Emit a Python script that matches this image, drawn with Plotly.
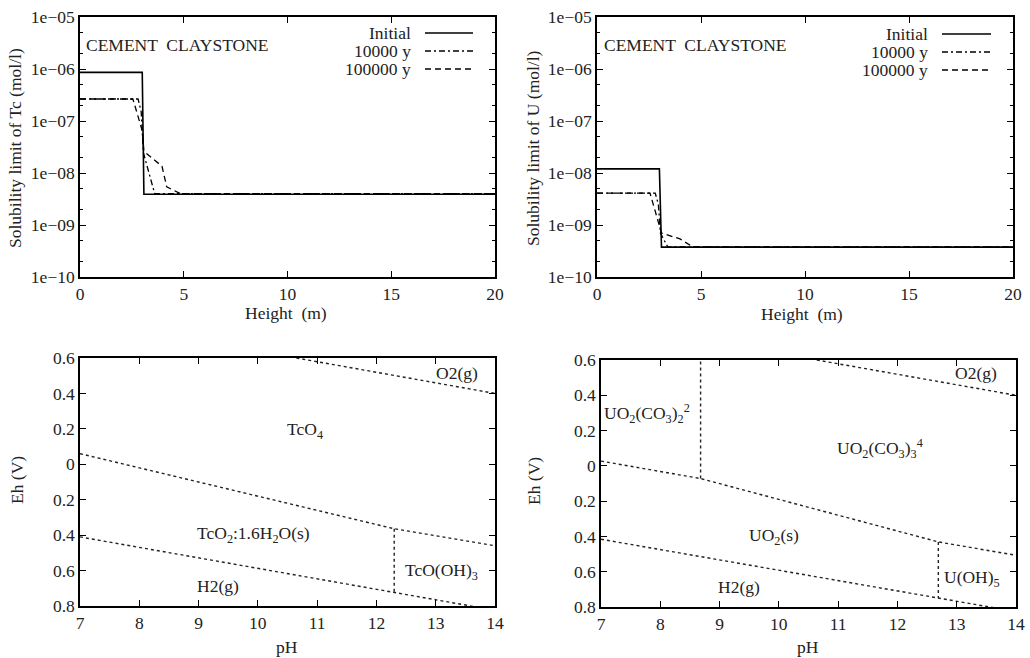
import plotly.graph_objects as go

W, H = 1030, 658
FONT = "Liberation Serif"
FS = 17.5

# ---------------- data: top plots (height vs solubility) ----------------
tc_init_x = [0, 3.0, 3.08, 20]
tc_init_y = [8.6e-7, 8.6e-7, 3.9e-9, 3.9e-9]
tc_1e4_x = [0, 2.8, 2.95, 3.05, 3.6, 20]
tc_1e4_y = [2.65e-7, 2.65e-7, 1.5e-7, 2.5e-8, 4.0e-9, 4.0e-9]
tc_1e5_x = [0, 2.55, 3.0, 3.08, 3.95, 4.18, 4.85, 20]
tc_1e5_y = [2.65e-7, 2.65e-7, 6.5e-8, 2.6e-8, 1.35e-8, 5.4e-9, 4.0e-9, 4.0e-9]

u_init_x = [0, 3.0, 3.1, 20]
u_init_y = [1.2e-8, 1.2e-8, 3.75e-10, 3.75e-10]
u_1e4_x = [0, 2.8, 2.95, 3.05, 3.4, 20]
u_1e4_y = [4.1e-9, 4.1e-9, 2.5e-9, 7.0e-10, 3.8e-10, 3.8e-10]
u_1e5_x = [0, 2.55, 3.1, 3.99, 4.6, 20]
u_1e5_y = [4.1e-9, 4.1e-9, 7.0e-10, 5.4e-10, 3.8e-10, 3.8e-10]

series_names = ["Initial", "10000 y", "100000 y"]
log_tickvals = [1e-10, 1e-9, 1e-8, 1e-7, 1e-6, 1e-5]
log_ticktext = ["1e\u221210", "1e\u221209", "1e\u221208", "1e\u221207", "1e\u221206", "1e\u221205"]
height_ticks = [0, 5, 10, 15, 20]

# ---------------- data: bottom plots (Eh-pH diagrams) ----------------
tc_o2_x = [10.65, 14]
tc_o2_y = [0.6, 0.40]
tc_upper_x = [7, 12.3, 14]
tc_upper_y = [0.06, -0.364, -0.46]
tc_h2_x = [7, 12.3, 14]
tc_h2_y = [-0.41, -0.724, -0.824]
tc_vert_x = [12.3, 12.3]
tc_vert_y = [-0.364, -0.724]

u_o2_x = [10.64, 14]
u_o2_y = [0.6, 0.40]
u_upper_x = [7, 8.68, 12.69, 14]
u_upper_y = [0.027, -0.072, -0.431, -0.507]
u_h2_x = [7, 12.69, 14]
u_h2_y = [-0.416, -0.749, -0.826]
u_vert1_x = [8.68, 8.68]
u_vert1_y = [-0.072, 0.6]
u_vert2_x = [12.69, 12.69]
u_vert2_y = [-0.431, -0.749]

ph_ticks = [7, 8, 9, 10, 11, 12, 13, 14]
eh_tickvals = [0.6, 0.4, 0.2, 0, -0.2, -0.4, -0.6, -0.8]
eh_ticktext = ["0.6", "0.4", "0.2", "0", "0.2", "0.4", "0.6", "0.8"]

tc_labels = [
    (13.36, 0.515, "O2(g)"),
    (10.79, 0.193, "TcO<sub>4</sub>"),
    (9.92, -0.394, "TcO<sub>2</sub>:1.6H<sub>2</sub>O(s)"),
    (9.33, -0.688, "H2(g)"),
    (13.1, -0.603, "TcO(OH)<sub>3</sub>"),
]
u_labels = [
    (13.33, 0.524, "O2(g)"),
    (7.77, 0.297, "UO<sub>2</sub>(CO<sub>3</sub>)<sub>2</sub><sup>2</sup>"),
    (11.70, 0.099, "UO<sub>2</sub>(CO<sub>3</sub>)<sub>3</sub><sup>4</sup>"),
    (9.91, -0.399, "UO<sub>2</sub>(s)"),
    (9.33, -0.686, "H2(g)"),
    (13.25, -0.639, "U(OH)<sub>5</sub>"),
]

# axis titles: (text, x_px, y_px, angle)
axis_titles = [
    ("Solubility limit of Tc (mol/l)", 15, 148, -90),
    ("Height  (m)", 286, 313, 0),
    ("Solubility limit of U (mol/l)", 533, 148, -90),
    ("Height  (m)", 802, 314, 0),
    ("Eh (V)", 17, 480, -90),
    ("pH", 287, 647, 0),
    ("Eh (V)", 534, 481, -90),
    ("pH", 808, 647, 0),
]

# ---------------- figure ----------------
def px_x(p):
    return p / W

def px_y(p):
    return 1 - p / H

fig = go.Figure()

styles = [
    dict(color="black", width=1.6),
    dict(color="black", width=1.3, dash="6px,3px,2px,3px"),
    dict(color="black", width=1.3, dash="6px,4px"),
]

top_sets = [
    ("x", "y", [(tc_init_x, tc_init_y), (tc_1e4_x, tc_1e4_y), (tc_1e5_x, tc_1e5_y)]),
    ("x2", "y2", [(u_init_x, u_init_y), (u_1e4_x, u_1e4_y), (u_1e5_x, u_1e5_y)]),
]
for xa, ya, sets in top_sets:
    for i in [2, 1, 0]:
        xs, ys = sets[i]
        fig.add_trace(go.Scatter(x=xs, y=ys, mode="lines", line=styles[i],
                                 xaxis=xa, yaxis=ya, showlegend=False,
                                 name=series_names[i]))

dot_line = dict(color="#222", width=1.4, dash="dot")
for xs, ys in [(tc_o2_x, tc_o2_y), (tc_upper_x, tc_upper_y), (tc_h2_x, tc_h2_y), (tc_vert_x, tc_vert_y)]:
    fig.add_trace(go.Scatter(x=xs, y=ys, mode="lines", line=dot_line,
                             xaxis="x3", yaxis="y3", showlegend=False))
for xs, ys in [(u_o2_x, u_o2_y), (u_upper_x, u_upper_y), (u_h2_x, u_h2_y),
               (u_vert1_x, u_vert1_y), (u_vert2_x, u_vert2_y)]:
    fig.add_trace(go.Scatter(x=xs, y=ys, mode="lines", line=dot_line,
                             xaxis="x4", yaxis="y4", showlegend=False))

tickfont = dict(family=FONT, size=FS, color="#222")

common = dict(showline=True, linecolor="black", linewidth=1.5, mirror="allticks",
              ticks="inside", ticklen=6, tickwidth=1.2, tickcolor="black",
              showgrid=False, zeroline=False, tickfont=tickfont, automargin=False)

dom = {
    "tl": ([px_x(80), px_x(495)], [px_y(277), px_y(17)]),
    "tr": ([px_x(597), px_x(1013)], [px_y(277), px_y(17)]),
    "bl": ([px_x(80), px_x(495)], [px_y(606), px_y(358)]),
    "br": ([px_x(601), px_x(1016)], [px_y(607), px_y(360)]),
}

log_axis = dict(type="log", range=[-10, -5], tickvals=log_tickvals, ticktext=log_ticktext,
                minor=dict(ticks="inside", ticklen=3, tickwidth=1, tickcolor="black",
                           tickvals=[k * 10 ** e for e in range(-10, -5) for k in (2, 5)]),
                **common)
h_axis = dict(range=[0, 20], tickvals=height_ticks, **common)
ph_axis = dict(range=[7, 14], tickvals=ph_ticks, **common)
eh_axis = dict(range=[-0.8, 0.6], tickvals=eh_tickvals, ticktext=eh_ticktext, **common)

fig.update_layout(
    width=W, height=H,
    margin=dict(l=0, r=0, t=0, b=0),
    paper_bgcolor="white", plot_bgcolor="white",
    font=dict(family=FONT, size=FS, color="#222"),
    xaxis=dict(domain=dom["tl"][0], anchor="y", **h_axis),
    yaxis=dict(domain=dom["tl"][1], anchor="x", **log_axis),
    xaxis2=dict(domain=dom["tr"][0], anchor="y2", **h_axis),
    yaxis2=dict(domain=dom["tr"][1], anchor="x2", **log_axis),
    xaxis3=dict(domain=dom["bl"][0], anchor="y3", **ph_axis),
    yaxis3=dict(domain=dom["bl"][1], anchor="x3", **eh_axis),
    xaxis4=dict(domain=dom["br"][0], anchor="y4", **ph_axis),
    yaxis4=dict(domain=dom["br"][1], anchor="x4", **eh_axis),
)

annotations = []
shapes = []
lab_font = dict(family=FONT, size=FS, color="#222")
for (xv, yv, t) in tc_labels:
    annotations.append(dict(x=xv, y=yv, xref="x3", yref="y3", text=t, showarrow=False,
                            xanchor="center", yanchor="middle", font=lab_font))
for (xv, yv, t) in u_labels:
    annotations.append(dict(x=xv, y=yv, xref="x4", yref="y4", text=t, showarrow=False,
                            xanchor="center", yanchor="middle", font=lab_font))

for (t, xp, yp, ang) in axis_titles:
    annotations.append(dict(x=px_x(xp), y=px_y(yp), xref="paper", yref="paper", text=t,
                            showarrow=False, textangle=ang, xanchor="center", yanchor="middle",
                            font=lab_font))

for left_px, text_right_px, line_px, row_y in [
    (84, 413, (425, 473), [33, 51, 69]),
    (602, 930, (942, 991), [34, 52, 70]),
]:
    annotations.append(dict(x=px_x(left_px), y=px_y(45), xref="paper", yref="paper",
                            text="CEMENT  CLAYSTONE", showarrow=False, xanchor="left",
                            yanchor="middle", font=lab_font))
    for i, name in enumerate(series_names):
        annotations.append(dict(x=px_x(text_right_px), y=px_y(row_y[i]), xref="paper", yref="paper",
                                text=name, showarrow=False, xanchor="right", yanchor="middle",
                                font=lab_font))
        shapes.append(dict(type="line", xref="paper", yref="paper",
                           x0=px_x(line_px[0]), x1=px_x(line_px[1]),
                           y0=px_y(row_y[i]), y1=px_y(row_y[i]), line=styles[i]))

fig.update_layout(annotations=annotations, shapes=shapes)

fig.write_html("out.html", config={"displayModeBar": False},
               post_script="document.body.style.margin='0';document.body.style.overflow='hidden';")
